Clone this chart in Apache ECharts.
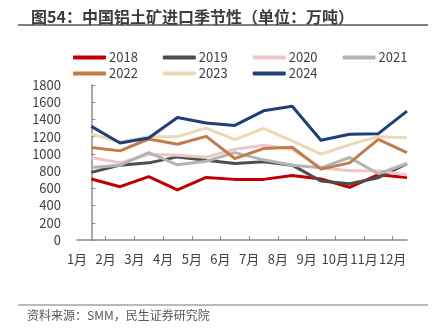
<!DOCTYPE html>
<html>
<head>
<meta charset="utf-8">
<script src="https://cdn.jsdelivr.net/npm/echarts@6/dist/echarts.min.js"></script>
<style>
  html, body { margin: 0; padding: 0; background: #fff; }
  #chart { width: 434px; height: 334px; }
</style>
</head>
<body>
<div id="chart"></div>
<script>
// Monthly bauxite imports, 10k tonnes
const months = ['1月', '2月', '3月', '4月', '5月', '6月', '7月', '8月', '9月', '10月', '11月', '12月'];
const years = ['2018', '2019', '2020', '2021', '2022', '2023', '2024'];
const v2018 = [708, 619, 735, 581, 727, 704, 704, 750, 708, 612, 758, 727];
const v2019 = [785, 869, 896, 965, 927, 888, 908, 869, 685, 654, 723, 888];
const v2020 = [958, 896, 996, 985, 962, 1054, 1100, 1054, 838, 804, 804, 754];
const v2021 = [842, 869, 1015, 873, 915, 1015, 931, 869, 838, 958, 769, 888];
const v2022 = [1073, 1035, 1173, 1112, 1204, 946, 1062, 1077, 823, 896, 1169, 1015];
const v2023 = [1231, 1138, 1200, 1200, 1300, 1165, 1296, 1150, 996, 1108, 1200, 1188];
const v2024 = [1319, 1127, 1185, 1423, 1358, 1331, 1500, 1554, 1158, 1227, 1235, 1496];
const yTicks = { min: 0, max: 1800, step: 200 };

const seriesValues = [v2018, v2019, v2020, v2021, v2022, v2023, v2024];
const colors = ['#C00000', '#4D4D4D', '#EFC6C6', '#B4B4B4', '#C27C4A', '#EBD8B5', '#203F78'];

const FONT = '"Noto Sans CJK SC", "Noto Sans", sans-serif';
const chart = echarts.init(document.getElementById('chart'), null, { renderer: 'canvas' });

// x positions: month i sits at value i; labels sit on the band boundaries
const labelPos = months.map((m, i) => i - 0.5);
const tickPos = months.slice(1).map((m, i) => i + 0.5);

const legendCommon = {
  itemWidth: 33,
  itemHeight: 4,
  itemGap: 25,
  icon: 'roundRect',
  textStyle: { fontFamily: FONT, fontSize: 13, color: '#404040', padding: [0, 0, 0, -2] },
  left: 68
};

chart.setOption({
  animation: false,
  backgroundColor: '#fff',
  color: colors,
  title: {
    text: '图54：中国铝土矿进口季节性（单位：万吨）',
    left: 26,
    top: 4,
    textStyle: { fontFamily: FONT, fontSize: 16, fontWeight: 'bold', color: '#3C3C3C' }
  },
  legend: [
    Object.assign({ data: years.slice(0, 4), top: 46 }, legendCommon),
    Object.assign({ data: years.slice(4), top: 62 }, legendCommon)
  ],
  grid: { left: 77, right: 27, top: 85, bottom: 94, containLabel: false },
  xAxis: {
    type: 'value',
    min: -0.5,
    max: 11,
    splitLine: { show: false },
    axisLine: { show: true, lineStyle: { color: '#8C8C8C', width: 1.5 } },
    axisTick: { show: true, inside: true, length: 4, customValues: tickPos, lineStyle: { color: '#8C8C8C' } },
    axisLabel: {
      customValues: labelPos,
      margin: 13,
      fontFamily: FONT,
      fontSize: 13,
      color: '#404040',
      formatter: v => months[Math.round(v + 0.5)] || ''
    }
  },
  yAxis: {
    type: 'value',
    min: yTicks.min,
    max: yTicks.max,
    interval: yTicks.step,
    splitLine: { show: false },
    axisLine: { show: true, lineStyle: { color: '#8C8C8C', width: 1.5 } },
    axisTick: { show: true, inside: true, length: 4, lineStyle: { color: '#8C8C8C' } },
    axisLabel: { margin: 16, fontFamily: FONT, fontSize: 13, color: '#404040', formatter: v => String(v) }
  },
  series: years.map((y, k) => ({
    name: y,
    type: 'line',
    data: seriesValues[k].map((v, i) => [i, v]),
    symbol: 'none',
    lineStyle: { width: 3, color: colors[k], join: 'round' },
    itemStyle: { color: colors[k] },
    z: 2 + k
  })),
  graphic: [
    { type: 'line', shape: { x1: 18, y1: 25, x2: 428, y2: 25 }, style: { stroke: '#555', lineWidth: 1.5 } },
    { type: 'line', shape: { x1: 18, y1: 305, x2: 428, y2: 305 }, style: { stroke: '#777', lineWidth: 1.2 } },
    {
      type: 'text', left: 27, top: 309,
      style: { text: '资料来源：SMM，民生证券研究院', fontFamily: FONT, fontSize: 12, fill: '#595959' }
    }
  ]
});
</script>
</body>
</html>
